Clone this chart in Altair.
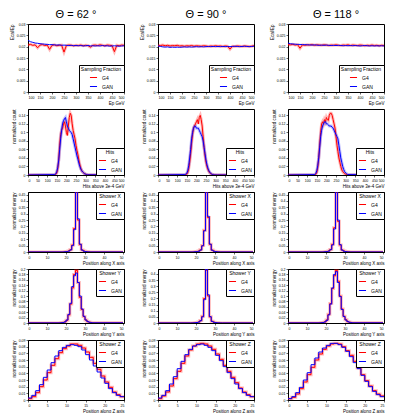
import altair as alt
import pandas as pd

RED = "#ff0000"
BLUE = "#0000ff"
SER = ["G4", "GAN"]
FONT = "Liberation Sans"
W = 96

col_titles = ["\u0398 = 62 \u00b0", "\u0398 = 90 \u00b0", "\u0398 = 118 \u00b0"]

# ---------------- Row 1: sampling fraction ----------------
ep = [100, 110, 120, 130, 140, 150, 160, 170, 180, 190, 200, 210, 220, 230, 240, 250, 260, 270, 280, 290,
      300, 310, 320, 330, 340, 350, 360, 370, 380, 390, 400, 410, 420, 430, 440, 450, 460, 470, 480, 490, 500]
sf_g4 = [
    [0.0207, 0.0210, 0.0206, 0.0208, 0.0195, 0.0207, 0.0209, 0.0205, 0.0207, 0.0188, 0.0206, 0.0208, 0.0204, 0.0206,
     0.0207, 0.0176, 0.0205, 0.0207, 0.0206, 0.0204, 0.0206, 0.0205, 0.0207, 0.0204, 0.0206, 0.0205, 0.0198, 0.0206,
     0.0207, 0.0205, 0.0208, 0.0206, 0.0204, 0.0207, 0.0206, 0.0205, 0.0178, 0.0206, 0.0204, 0.0207, 0.0206],
    [0.0206, 0.0205, 0.0207, 0.0204, 0.0206, 0.0203, 0.0205, 0.0204, 0.0206, 0.0203, 0.0204, 0.0202, 0.0204, 0.0203,
     0.0205, 0.0202, 0.0204, 0.0203, 0.0202, 0.0204, 0.0203, 0.0201, 0.0203, 0.0202, 0.0204, 0.0202, 0.0203, 0.0201,
     0.0203, 0.0202, 0.0189, 0.0202, 0.0201, 0.0203, 0.0202, 0.0201, 0.0203, 0.0202, 0.0201, 0.0202, 0.0204],
    [0.0209, 0.0208, 0.0210, 0.0207, 0.0209, 0.0193, 0.0208, 0.0206, 0.0208, 0.0207, 0.0209, 0.0206, 0.0208, 0.0207,
     0.0206, 0.0208, 0.0207, 0.0205, 0.0207, 0.0206, 0.0208, 0.0206, 0.0205, 0.0207, 0.0206, 0.0208, 0.0205, 0.0207,
     0.0206, 0.0205, 0.0207, 0.0206, 0.0204, 0.0206, 0.0205, 0.0207, 0.0205, 0.0206, 0.0204, 0.0206, 0.0205],
]
sf_gan = [
    [0.0228, 0.0222, 0.0219, 0.0216, 0.0215, 0.0213, 0.0212, 0.0211, 0.0210, 0.0209, 0.0209, 0.0208, 0.0207, 0.0208,
     0.0206, 0.0207, 0.0206, 0.0205, 0.0206, 0.0204, 0.0205, 0.0204, 0.0205, 0.0203, 0.0204, 0.0205, 0.0203, 0.0204,
     0.0203, 0.0204, 0.0203, 0.0205, 0.0203, 0.0204, 0.0202, 0.0203, 0.0204, 0.0203, 0.0202, 0.0203, 0.0204],
    [0.0203, 0.0201, 0.0199, 0.0198, 0.0199, 0.0197, 0.0198, 0.0197, 0.0198, 0.0197, 0.0198, 0.0199, 0.0198, 0.0199,
     0.0198, 0.0199, 0.0200, 0.0199, 0.0200, 0.0199, 0.0200, 0.0201, 0.0200, 0.0201, 0.0200, 0.0201, 0.0200, 0.0201,
     0.0200, 0.0201, 0.0200, 0.0201, 0.0202, 0.0201, 0.0200, 0.0201, 0.0202, 0.0201, 0.0200, 0.0201, 0.0202],
    [0.0216, 0.0213, 0.0212, 0.0211, 0.0210, 0.0210, 0.0209, 0.0209, 0.0208, 0.0208, 0.0207, 0.0208, 0.0207, 0.0206,
     0.0207, 0.0206, 0.0207, 0.0206, 0.0205, 0.0206, 0.0205, 0.0206, 0.0205, 0.0204, 0.0205, 0.0204, 0.0205, 0.0204,
     0.0205, 0.0204, 0.0203, 0.0204, 0.0205, 0.0204, 0.0203, 0.0204, 0.0203, 0.0204, 0.0203, 0.0204, 0.0203],
]

# ---------------- Row 2: hits ----------------
hits_x = [0, 140, 145, 150, 155, 160, 165, 170, 175, 180, 185, 190, 195, 200, 205, 210, 215, 220, 225, 230, 235,
          240, 245, 250, 255, 260, 265, 270, 275, 280, 285, 290, 295, 300, 305, 310, 500]
hits_g4 = [
    [0, 0, 0.002, 0.005, 0.015, 0.035, 0.07, 0.095, 0.105, 0.11, 0.12, 0.125, 0.115, 0.1, 0.093, 0.115, 0.135, 0.145,
     0.14, 0.12, 0.105, 0.095, 0.085, 0.07, 0.058, 0.048, 0.035, 0.024, 0.016, 0.01, 0.007, 0.005, 0.003, 0.002,
     0.001, 0.0005, 0],
    [0, 0, 0.001, 0.002, 0.006, 0.015, 0.03, 0.05, 0.075, 0.095, 0.11, 0.115, 0.12, 0.125, 0.13, 0.12, 0.135, 0.14,
     0.13, 0.115, 0.09, 0.065, 0.045, 0.03, 0.02, 0.013, 0.008, 0.005, 0.003, 0.002, 0.001, 0.0005, 0.0003, 0.0002,
     0.0001, 0, 0],
    [0, 0, 0.002, 0.006, 0.018, 0.04, 0.07, 0.1, 0.12, 0.125, 0.12, 0.13, 0.125, 0.135, 0.13, 0.128, 0.14, 0.145,
     0.145, 0.14, 0.13, 0.12, 0.11, 0.09, 0.07, 0.055, 0.04, 0.03, 0.02, 0.012, 0.008, 0.005, 0.003, 0.002, 0.001,
     0.0005, 0],
]
hits_gan = [
    [0, 0.001, 0.003, 0.008, 0.018, 0.035, 0.06, 0.085, 0.105, 0.12, 0.128, 0.132, 0.135, 0.125, 0.115, 0.11, 0.105,
     0.102, 0.1, 0.095, 0.085, 0.075, 0.065, 0.055, 0.045, 0.037, 0.028, 0.02, 0.014, 0.01, 0.007, 0.005, 0.003,
     0.002, 0.001, 0.0005, 0],
    [0, 0.001, 0.002, 0.004, 0.01, 0.022, 0.04, 0.06, 0.085, 0.1, 0.11, 0.115, 0.115, 0.11, 0.11, 0.11, 0.105, 0.1,
     0.095, 0.09, 0.08, 0.065, 0.05, 0.035, 0.024, 0.016, 0.01, 0.006, 0.004, 0.002, 0.001, 0.0005, 0.0003, 0.0002,
     0.0001, 0, 0],
    [0, 0.001, 0.004, 0.01, 0.022, 0.04, 0.065, 0.09, 0.105, 0.115, 0.12, 0.125, 0.125, 0.12, 0.12, 0.118, 0.115,
     0.115, 0.115, 0.112, 0.11, 0.105, 0.1, 0.095, 0.09, 0.085, 0.07, 0.055, 0.04, 0.03, 0.02, 0.013, 0.008, 0.005,
     0.003, 0.001, 0],
]

# ---------------- Row 3: shower X (bin left edges) ----------------
sx_bins = [0, 19, 20, 21, 22, 23, 24, 25, 26, 27, 28, 29, 30, 31, 32, 33, 50]
sx_g4 = [
    [0.0003, 0.002, 0.004, 0.008, 0.018, 0.055, 0.185, 0.47, 0.25, 0.058, 0.016, 0.007, 0.003, 0.0015, 0.0008, 0.0003, 0.0003],
    [0.0003, 0.002, 0.003, 0.007, 0.017, 0.05, 0.17, 0.47, 0.27, 0.06, 0.015, 0.006, 0.003, 0.0012, 0.0006, 0.0003, 0.0003],
    [0.0003, 0.002, 0.004, 0.008, 0.02, 0.06, 0.19, 0.47, 0.24, 0.055, 0.016, 0.007, 0.003, 0.0015, 0.0008, 0.0003, 0.0003],
]
sx_gan = [
    [0.0003, 0.002, 0.003, 0.007, 0.016, 0.05, 0.175, 0.48, 0.26, 0.062, 0.015, 0.006, 0.003, 0.0012, 0.0006, 0.0003, 0.0003],
    [0.0003, 0.002, 0.003, 0.006, 0.015, 0.048, 0.165, 0.48, 0.28, 0.062, 0.014, 0.006, 0.003, 0.0012, 0.0006, 0.0003, 0.0003],
    [0.0003, 0.002, 0.003, 0.007, 0.018, 0.055, 0.18, 0.48, 0.25, 0.058, 0.015, 0.006, 0.003, 0.0012, 0.0006, 0.0003, 0.0003],
]

# ---------------- Row 4: shower Y ----------------
sy_bins = [0, 17, 18, 19, 20, 21, 22, 23, 24, 25, 26, 27, 28, 29, 30, 31, 32, 33, 34, 50]
sy_g4 = [
    [0.0003, 0.001, 0.002, 0.004, 0.01, 0.03, 0.07, 0.13, 0.18, 0.195, 0.15, 0.095, 0.05, 0.024, 0.011, 0.005, 0.0025, 0.0012, 0.0006, 0.0006],
    [0.0003, 0.0005, 0.001, 0.002, 0.004, 0.008, 0.02, 0.055, 0.2, 0.43, 0.22, 0.05, 0.014, 0.006, 0.003, 0.0015, 0.0008, 0.0005, 0.0003, 0.0003],
    [0.0003, 0.001, 0.002, 0.004, 0.011, 0.032, 0.072, 0.128, 0.175, 0.195, 0.155, 0.1, 0.052, 0.025, 0.012, 0.005, 0.0025, 0.0012, 0.0006, 0.0006],
]
sy_gan = [
    [0.0003, 0.001, 0.002, 0.004, 0.011, 0.032, 0.073, 0.135, 0.175, 0.185, 0.15, 0.1, 0.052, 0.025, 0.011, 0.005, 0.0025, 0.0012, 0.0006, 0.0006],
    [0.0003, 0.0005, 0.001, 0.002, 0.004, 0.008, 0.018, 0.05, 0.19, 0.44, 0.23, 0.052, 0.013, 0.006, 0.003, 0.0015, 0.0008, 0.0005, 0.0003, 0.0003],
    [0.0003, 0.001, 0.002, 0.004, 0.01, 0.03, 0.07, 0.13, 0.18, 0.19, 0.15, 0.098, 0.05, 0.024, 0.011, 0.005, 0.0025, 0.0012, 0.0006, 0.0006],
]

# ---------------- Row 5: shower Z ----------------
sz_bins = [0, 1, 2, 3, 4, 5, 6, 7, 8, 9, 10, 11, 12, 13, 14, 15, 16, 17, 18, 19, 20, 21, 22, 23, 24, 25]
sz_g4 = [
    [0.002, 0.005, 0.011, 0.02, 0.03, 0.041, 0.052, 0.062, 0.071, 0.077, 0.081, 0.084, 0.084, 0.082, 0.078, 0.072,
     0.064, 0.055, 0.046, 0.036, 0.027, 0.019, 0.012, 0.008, 0.005, 0.005],
    [0.002, 0.006, 0.012, 0.021, 0.032, 0.043, 0.055, 0.066, 0.075, 0.081, 0.084, 0.085, 0.084, 0.081, 0.076, 0.069,
     0.061, 0.052, 0.043, 0.034, 0.026, 0.018, 0.012, 0.008, 0.005, 0.005],
    [0.002, 0.004, 0.009, 0.017, 0.027, 0.038, 0.049, 0.06, 0.069, 0.076, 0.081, 0.084, 0.085, 0.084, 0.08, 0.074,
     0.067, 0.058, 0.048, 0.038, 0.029, 0.021, 0.014, 0.009, 0.006, 0.006],
]
sz_gan = [
    [0.003, 0.007, 0.014, 0.023, 0.034, 0.045, 0.056, 0.066, 0.074, 0.079, 0.082, 0.083, 0.082, 0.08, 0.075, 0.068,
     0.06, 0.051, 0.042, 0.033, 0.025, 0.017, 0.011, 0.007, 0.005, 0.005],
    [0.003, 0.007, 0.014, 0.024, 0.035, 0.047, 0.058, 0.068, 0.076, 0.081, 0.083, 0.084, 0.082, 0.079, 0.074, 0.067,
     0.059, 0.05, 0.041, 0.032, 0.024, 0.017, 0.011, 0.007, 0.005, 0.005],
    [0.002, 0.005, 0.011, 0.019, 0.03, 0.041, 0.053, 0.063, 0.072, 0.078, 0.082, 0.085, 0.085, 0.083, 0.079, 0.073,
     0.065, 0.056, 0.047, 0.037, 0.028, 0.02, 0.013, 0.008, 0.005, 0.005],
]

# axis tick values
ep_ticks = [100, 150, 200, 250, 300, 350, 400, 450, 500]
sf_yticks = [0, 0.005, 0.01, 0.015, 0.02, 0.025, 0.03]
hits_xticks = [0, 50, 100, 150, 200, 250, 300, 350, 400, 450, 500]
hits_yticks = [0, 0.02, 0.04, 0.06, 0.08, 0.1, 0.12, 0.14]
pos_ticks = [0, 10, 20, 30, 40, 50]
sx_yticks = [0, 0.05, 0.1, 0.15, 0.2, 0.25, 0.3, 0.35, 0.4, 0.45]
sy_yticks = [0, 0.02, 0.04, 0.06, 0.08, 0.1, 0.12, 0.14, 0.16, 0.18, 0.2]
sy_yticks2 = [0, 0.05, 0.1, 0.15, 0.2, 0.25, 0.3, 0.35, 0.4]
z_ticks = [0, 5, 10, 15, 20, 25]
sz_yticks = [0, 0.01, 0.02, 0.03, 0.04, 0.05, 0.06, 0.07, 0.08, 0.09]


def panel(xs, g4, gan, xdom, ydom, xvals, yvals, xtitle, ytitle, leg, orient, h,
          interp="linear", title=None, halo_both=True):
    n = len(xs)
    df = pd.DataFrame({"x": list(xs) * 2, "y": list(g4) + list(gan),
                       "s": ["G4"] * n + ["GAN"] * n})
    x = alt.X("x:Q", scale=alt.Scale(domain=xdom, nice=False, zero=False),
              axis=alt.Axis(values=xvals, title=xtitle, format="d"))
    y = alt.Y("y:Q", scale=alt.Scale(domain=ydom, nice=False),
              axis=alt.Axis(values=yvals, title=ytitle, format=".3~f"))
    c = alt.Color("s:N", scale=alt.Scale(domain=SER, range=[RED, BLUE]),
                  legend=alt.Legend(title=leg, orient=orient))
    base = alt.Chart(df)
    layers = []
    halo_g4 = base.transform_filter(alt.datum.s == "G4").mark_line(
        interpolate=interp, strokeWidth=3, opacity=0.28, clip=True).encode(x=x, y=y, color=c)
    layers.append(halo_g4)
    if halo_both:
        halo_gan = base.transform_filter(alt.datum.s == "GAN").mark_line(
            interpolate=interp, strokeWidth=3, opacity=0.25, clip=True).encode(x=x, y=y, color=c)
        layers.append(halo_gan)
    line_g4 = base.transform_filter(alt.datum.s == "G4").mark_line(
        interpolate=interp, strokeWidth=1, clip=True).encode(x=x, y=y, color=c)
    line_gan = base.transform_filter(alt.datum.s == "GAN").mark_line(
        interpolate=interp, strokeWidth=1, clip=True).encode(x=x, y=y, color=c)
    layers += [line_g4, line_gan]
    ch = alt.layer(*layers).properties(width=W, height=h)
    if title:
        ch = ch.properties(title=alt.TitleParams(text=title, fontSize=11, font=FONT,
                                                 fontWeight="normal", offset=2, anchor="middle"))
    return ch


panels = []
for i in range(3):
    panels.append(panel(ep, sf_g4[i], sf_gan[i], [100, 500], [0, 0.03], ep_ticks, sf_yticks,
                        "Ep GeV", "Ecal/Ep", "Sampling Fraction", "bottom-right", 68,
                        title=col_titles[i], halo_both=False))
for i in range(3):
    panels.append(panel(hits_x, hits_g4[i], hits_gan[i], [0, 500], [0, 0.155], hits_xticks, hits_yticks,
                        "Hits above 3e-4 GeV", "normalized count", "Hits", "bottom-right", 66))
for i in range(3):
    panels.append(panel(sx_bins, sx_g4[i], sx_gan[i], [0, 50.5], [0, 0.47], pos_ticks, sx_yticks,
                        "Position along X axis", "normalized energy", "Shower X", "top-right", 60,
                        interp="step-after", halo_both=False))
for i in range(3):
    yd = [0, 0.44] if i == 1 else [0, 0.2]
    yt = sy_yticks2 if i == 1 else sy_yticks
    panels.append(panel(sy_bins, sy_g4[i], sy_gan[i], [0, 50.5], yd, pos_ticks, yt,
                        "Position along Y axis", "normalized energy", "Shower Y", "top-right", 54,
                        interp="step-after", halo_both=False))
for i in range(3):
    panels.append(panel(sz_bins, sz_g4[i], sz_gan[i], [0, 25], [0, 0.09], z_ticks, sz_yticks,
                        "Position along Z axis", "normalized energy", "Shower Z", "top-right", 60,
                        interp="step-after", halo_both=False))

chart = alt.concat(
    *panels, columns=3, spacing=alt.RowColnumber(row=17, column=34), bounds="flush"
).resolve_scale(
    color="independent", x="independent", y="independent"
).properties(padding=0).configure_view(
    stroke="black", strokeWidth=1
).configure_axis(
    labelFontSize=3.5, titleFontSize=4.5, tickSize=2, labelPadding=1, titlePadding=2,
    titleFontWeight="normal", domainColor="black", tickColor="black", labelColor="black",
    titleColor="black", grid=False, titleAnchor="end", labelFont=FONT, titleFont=FONT,
    labelOverlap=False, domainWidth=1, tickWidth=0.6
).configure_legend(
    titleFontSize=5, labelFontSize=5, titleFont=FONT, labelFont=FONT, titleFontWeight="normal",
    symbolType="stroke", symbolStrokeWidth=1, symbolSize=50, symbolOpacity=1,
    fillColor="white", strokeColor="black", padding=2, offset=0, titleAnchor="middle",
    rowPadding=1, titlePadding=1, labelColor="black", titleColor="black"
)

chart.save("out.html", embed_options={"renderer": "svg", "actions": False})
